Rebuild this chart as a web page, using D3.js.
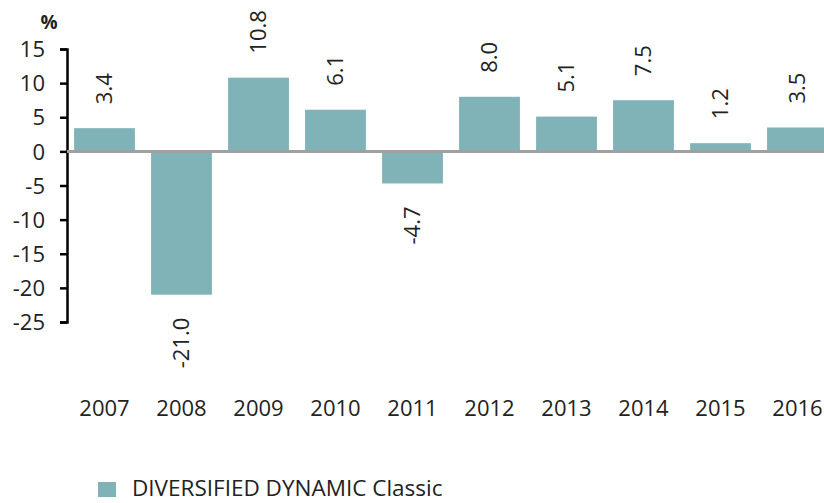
<!DOCTYPE html>
<html><head><meta charset="utf-8">
<script src="https://cdn.jsdelivr.net/npm/d3@7/dist/d3.min.js"></script>
<style>body{margin:0;background:#fff}svg{display:block}text{font-family:"Open Sans",sans-serif;fill:#222}</style>
</head><body><svg id="c" width="824" height="503"></svg>
<script>
const years = ["2007","2008","2009","2010","2011","2012","2013","2014","2015","2016"];
const values = [3.4,-21.0,10.8,6.1,-4.7,8.0,5.1,7.5,1.2,3.5];
const yTicks = [15,10,5,0,-5,-10,-15,-20,-25];
const seriesName = "DIVERSIFIED DYNAMIC Classic";
const color = "#80b3b8";

const svg = d3.select("#c");
const x = d3.scaleBand().domain(years).range([66,836]).paddingInner(0.21).paddingOuter(0.105);
const y = d3.scaleLinear().domain([-25,15]).range([322,49]);

// bars
svg.selectAll("rect.bar").data(values).join("rect")
  .attr("x",(d,i)=>x(years[i])).attr("width",x.bandwidth())
  .attr("y",d=>y(Math.max(0,d))).attr("height",d=>Math.abs(y(d)-y(0)))
  .attr("fill",color);

// y axis
const ax = svg.append("g").attr("transform","translate(67,0)")
  .call(d3.axisLeft(y).tickValues(yTicks).tickSize(7).tickFormat(d=>String(d)));
ax.select(".domain").attr("stroke","#000").attr("stroke-width",2.5);
ax.selectAll(".tick line").attr("stroke","#000").attr("stroke-width",2.5);
ax.selectAll(".tick text").attr("x",-22).style("font-size","22px").style("fill","#222").attr("dy","0.35em").style("font-family","Open Sans");

// zero line
svg.append("line").attr("x1",67).attr("x2",824).attr("y1",y(0)).attr("y2",y(0))
  .attr("stroke","#a0a0a0").attr("stroke-width",3);

svg.append("text").attr("x",49).attr("y",29).attr("text-anchor","middle")
  .style("font-size","19px").style("font-weight","bold").text("%");

// value labels
svg.selectAll("text.val").data(values).join("text").attr("class","val")
  .attr("transform",(d,i)=>{
    const cx = x(years[i])+x.bandwidth()/2;
    const yy = d>=0 ? y(d)-24 : y(d)+23;
    return `translate(${cx},${yy}) rotate(-90)`;
  })
  .attr("text-anchor",d=>d>=0?"start":"end")
  .attr("dy","0.35em")
  .style("font-size","22px")
  .text(d=>d.toFixed(1));

// x labels
svg.selectAll("text.yr").data(years).join("text").attr("class","yr")
  .attr("x",d=>x(d)+x.bandwidth()/2).attr("y",416).attr("text-anchor","middle")
  .style("font-size","22px").text(d=>d);

// legend
svg.append("rect").attr("x",98).attr("y",482).attr("width",18).attr("height",15).attr("fill",color);
svg.append("text").attr("x",132).attr("y",496).style("font-size","22.5px").text(seriesName);
</script></body></html>
